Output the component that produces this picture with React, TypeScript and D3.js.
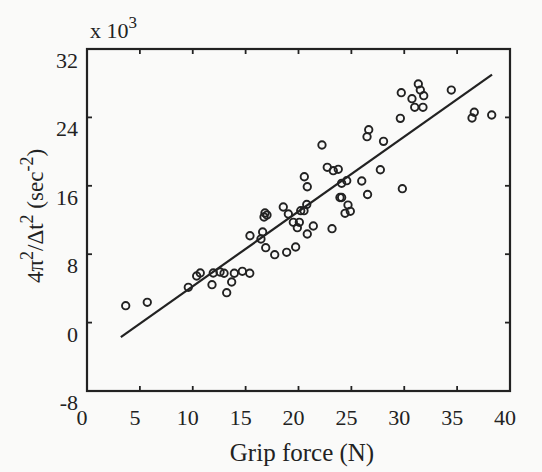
import React, { useEffect, useRef } from 'react'
import * as d3 from 'd3'

// grip force (N) and 4pi^2/dt^2 (x 10^3 sec^-2)
const gripForce = [
  3.66, 5.7, 9.58, 10.37, 10.71, 11.82, 11.94, 12.58, 12.96, 13.21, 13.68, 13.93, 14.69, 15.39,
  15.41, 16.61, 16.45, 16.9, 17.75, 18.88, 19.73, 16.83, 17.02, 16.74, 18.56, 19.04, 19.51,
  20.08, 19.89, 20.21, 20.52, 20.78, 20.83, 21.4, 23.17, 20.55, 20.83, 22.22, 22.72, 23.29,
  23.76, 23.92, 24.08, 24.08, 24.56, 24.68, 24.4, 24.9, 25.98, 26.53, 26.48, 26.64, 27.74,
  28.04, 29.82, 29.63, 29.72, 30.73, 30.99, 31.33, 31.52, 31.84, 31.77, 34.45, 36.62, 36.41,
  38.27
]
const freqSq = [
  1.98, 2.37, 4.13, 5.45, 5.8, 4.43, 5.8, 5.92, 5.77, 3.5, 4.75, 5.77, 6.0, 5.77,
  10.16, 10.6, 9.78, 8.76, 7.94, 8.22, 8.84, 12.82, 12.58, 12.35, 13.52, 12.7, 11.73,
  11.73, 11.1, 13.09, 13.09, 13.81, 10.36, 11.3, 10.98, 17.06, 15.89, 20.77, 18.16, 17.77,
  17.93, 14.63, 14.63, 16.29, 16.6, 13.75, 12.78, 13.02, 16.56, 14.98, 21.74, 22.56, 17.88,
  21.2, 15.66, 23.89, 26.89, 26.19, 25.18, 27.91, 27.2, 26.54, 25.18, 27.2, 24.6, 23.93,
  24.28
]

// regression line end points
const fitX = [3.2, 38.3]
const fitY = [-1.7, 29.0]

const xTicks = [0, 5, 10, 15, 20, 25, 30, 35, 40]
const yTicks = [-8, 0, 8, 16, 24, 32]

const ink = '#222'
const serif = '"Liberation Serif", "Times New Roman", serif'

function App() {
  const ref = useRef(null)

  useEffect(() => {
    const svg = d3.select(ref.current)
    svg.selectAll('*').remove()

    const left = 87, right = 510, top = 49, bottom = 391
    const x = d3.scaleLinear().domain([0, 40]).range([left, right])
    const y = d3.scaleLinear().domain([-8, 32]).range([bottom, top])

    svg.append('rect')
      .attr('width', 542).attr('height', 472)
      .attr('fill', '#fafaf9')

    const g = svg.append('g')

    // box
    g.append('rect')
      .attr('x', left).attr('y', top)
      .attr('width', right - left).attr('height', bottom - top)
      .attr('fill', 'none').attr('stroke', ink).attr('stroke-width', 2.2)

    const tl = 5
    // x ticks (bottom + top)
    g.selectAll('line.xt')
      .data(xTicks.slice(1, -1))
      .enter().append('line')
        .attr('x1', d => x(d)).attr('x2', d => x(d))
        .attr('y1', bottom).attr('y2', bottom - tl)
        .attr('stroke', ink).attr('stroke-width', 1.8)
    g.selectAll('line.xtt')
      .data(xTicks.slice(1, -1))
      .enter().append('line')
        .attr('x1', d => x(d)).attr('x2', d => x(d))
        .attr('y1', top).attr('y2', top + tl)
        .attr('stroke', ink).attr('stroke-width', 1.8)
    // y ticks (left + right)
    g.selectAll('line.yt')
      .data(yTicks.slice(1, -1))
      .enter().append('line')
        .attr('x1', left).attr('x2', left + tl)
        .attr('y1', d => y(d)).attr('y2', d => y(d))
        .attr('stroke', ink).attr('stroke-width', 1.8)
    g.selectAll('line.ytr')
      .data(yTicks.slice(1, -1))
      .enter().append('line')
        .attr('x1', right).attr('x2', right - tl)
        .attr('y1', d => y(d)).attr('y2', d => y(d))
        .attr('stroke', ink).attr('stroke-width', 1.8)

    // tick labels
    g.selectAll('text.xl')
      .data(xTicks)
      .enter().append('text')
        .attr('x', d => x(d) - 5)
        .attr('y', 425)
        .attr('text-anchor', 'middle')
        .attr('font-family', serif).attr('font-size', 22)
        .attr('fill', ink)
        .text(d => d)
    g.selectAll('text.yl')
      .data(yTicks)
      .enter().append('text')
        .attr('x', 78)
        .attr('y', d => y(d) + 19)
        .attr('text-anchor', 'end')
        .attr('font-family', serif).attr('font-size', 22)
        .attr('fill', ink)
        .text(d => d)

    // x 10^3 multiplier
    const mult = g.append('text')
      .attr('x', 90).attr('y', 38)
      .attr('font-family', serif).attr('font-size', 22)
      .attr('fill', ink)
    mult.append('tspan').text('x 10')
    mult.append('tspan').attr('dy', -10).attr('font-size', 17).text('3')

    // axis titles
    g.append('text')
      .attr('x', 302).attr('y', 461)
      .attr('text-anchor', 'middle')
      .attr('font-family', serif).attr('font-size', 25)
      .attr('fill', ink)
      .text('Grip force (N)')

    const yt = g.append('text')
      .attr('transform', 'translate(43,216) rotate(-90)')
      .attr('text-anchor', 'middle')
      .attr('font-family', serif).attr('font-size', 23)
      .attr('fill', ink)
    yt.append('tspan').text('4π')
    yt.append('tspan').attr('dy', -10).attr('font-size', 18).text('2')
    yt.append('tspan').attr('dy', 10).text('/Δt')
    yt.append('tspan').attr('dy', -10).attr('font-size', 18).text('2')
    yt.append('tspan').attr('dy', 10).text(' (sec')
    yt.append('tspan').attr('dy', -10).attr('font-size', 18).text('-2')
    yt.append('tspan').attr('dy', 10).text(')')

    // fit line
    const line = d3.line<number>()
      .x(d => x(fitX[d]))
      .y(d => y(fitY[d]))
    g.append('path')
      .attr('d', line([0, 1]))
      .attr('fill', 'none').attr('stroke', ink).attr('stroke-width', 2.2)

    // points
    g.selectAll('circle')
      .data(gripForce)
      .enter().append('circle')
        .attr('cx', d => x(d))
        .attr('cy', (d, i) => y(freqSq[i]))
        .attr('r', 3.7)
        .attr('fill', 'none').attr('stroke', ink).attr('stroke-width', 1.9)
  }, [])

  return (
    <svg
      ref={ref}
      width="542"
      height="472"
      style={{ position: 'absolute', left: 0, top: 0, display: 'block' }}>
    </svg>
  )
}

export default App
